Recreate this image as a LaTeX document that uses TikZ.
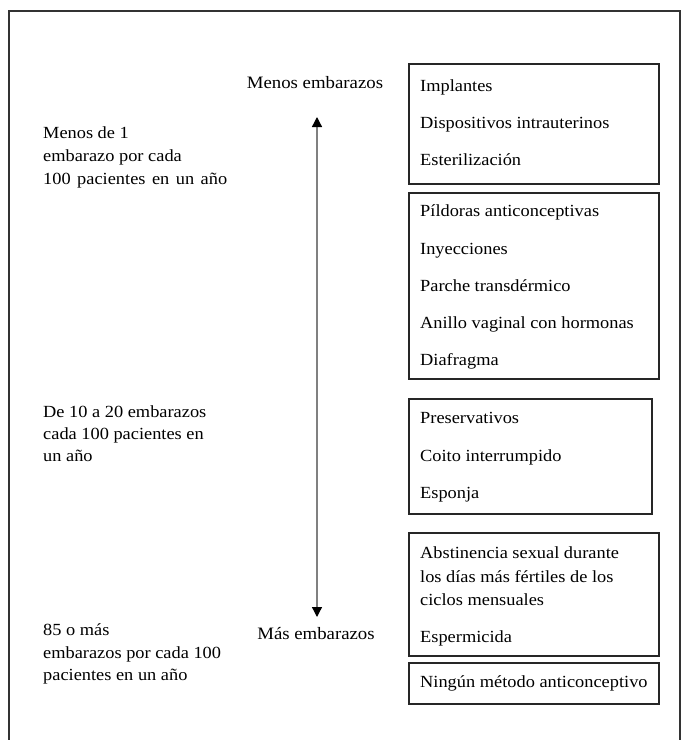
\documentclass[tikz,border=0pt]{standalone}
\usepackage{fontspec}
\setmainfont[FakeStretch=1.08]{Liberation Serif}
\usetikzlibrary{arrows.meta}
\tikzset{
  frame/.style={draw=black!80, line width=2.6pt},
  box/.style={draw=black!85, line width=1.5pt, inner sep=0pt, anchor=north west},
  txt/.style={anchor=base west, inner sep=0pt, font=\fontsize{17}{20}\selectfont, text=black},
  lbl/.style={anchor=base, inner sep=0pt, font=\fontsize{17.4}{20}\selectfont, text=black},
  arr/.style={draw=black!50, line width=1.3pt, {Triangle[width=10pt,length=10pt,color=black]}-{Triangle[width=10pt,length=10pt,color=black]}}
}
\begin{document}
\begin{tikzpicture}[x=1pt,y=-1pt]
\useasboundingbox (0,0) rectangle (685,740);
% outer frame
\draw[frame] (9,745) -- (9,11) -- (680,11) -- (680,745);
% boxes
\node[box, minimum width=250pt, minimum height=120pt] (b1) at (408,63) {};
\node[box, minimum width=250pt, minimum height=186pt] (b2) at (408,192) {};
\node[box, minimum width=243pt, minimum height=115pt] (b3) at (408,398) {};
\node[box, minimum width=250pt, minimum height=123pt] (b4) at (408,532) {};
\node[box, minimum width=250pt, minimum height=41pt] (b5) at (408,662) {};
% box texts
\node[txt] (t11) at (420,91) {Implantes};
\node[txt] (t12) at (420,128) {Dispositivos intrauterinos};
\node[txt] (t13) at (420,165) {Esterilización};
\node[txt] (t21) at (420,216) {Píldoras anticonceptivas};
\node[txt] (t22) at (420,254) {Inyecciones};
\node[txt] (t23) at (420,291) {Parche transdérmico};
\node[txt] (t24) at (420,328) {Anillo vaginal con hormonas};
\node[txt] (t25) at (420,365) {Diafragma};
\node[txt] (t31) at (420,423) {Preservativos};
\node[txt] (t32) at (420,461) {Coito interrumpido};
\node[txt] (t33) at (420,498) {Esponja};
\node[txt] (t41) at (420,558) {Abstinencia sexual durante};
\node[txt] (t42) at (420,582) {los días más fértiles de los};
\node[txt] (t43) at (420,605) {ciclos mensuales};
\node[txt] (t44) at (420,642) {Espermicida};
\node[txt] (t51) at (420,687) {Ningún método anticonceptivo};
% left texts
\node[txt] (l11) at (43,138) {Menos de 1};
\node[txt] (l12) at (43,161) {embarazo por cada};
\node[txt] (l13) at (43,184) {\spaceskip=6.5pt 100 pacientes en un año};
\node[txt] (l21) at (43,417) {De 10 a 20 embarazos};
\node[txt] (l22) at (43,439) {cada 100 pacientes en};
\node[txt] (l23) at (43,461) {un año};
\node[txt] (l31) at (43,635) {85 o más};
\node[txt] (l32) at (43,658) {embarazos por cada 100};
\node[txt] (l33) at (43,680) {pacientes en un año};
% axis labels and arrow
\node[lbl] (mtop) at (315,88) {Menos embarazos};
\node[lbl] (mbot) at (316,639) {Más embarazos};
\coordinate (atop) at (317,117);
\coordinate (abot) at (317,617);
\draw[arr] (abot) -- (atop);
\end{tikzpicture}
\end{document}
